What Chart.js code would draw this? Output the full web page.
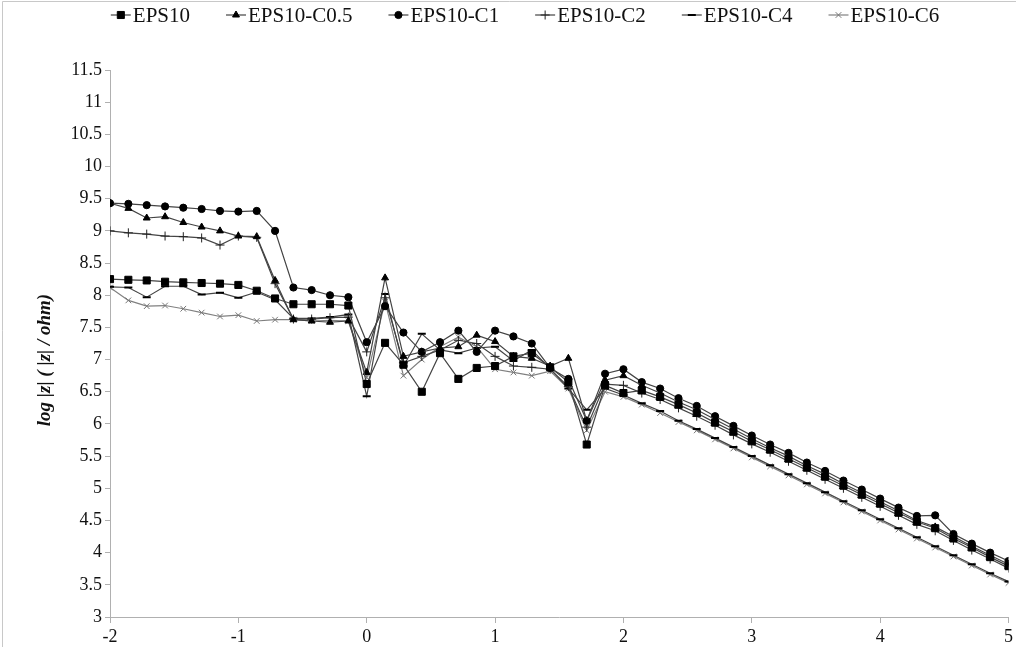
<!DOCTYPE html>
<html>
<head>
<meta charset="utf-8">
<script src="https://cdn.jsdelivr.net/npm/chart.js@4/dist/chart.umd.min.js"></script>
<style>
  html, body { margin: 0; padding: 0; background: #fff; overflow: hidden; }
  canvas { display: block; }
</style>
</head>
<body>
<canvas id="chart" width="1016" height="660"></canvas>
<script>
// ── Data ──────────────────────────────────────────────────────────────────────

const xLog = [
  -2, -1.857, -1.714, -1.571, -1.429, -1.286, -1.143, -1, -0.857, -0.714,
  -0.571, -0.429, -0.286, -0.143, 0, 0.143, 0.286, 0.429, 0.571, 0.714,
  0.857, 1, 1.143, 1.286, 1.429, 1.571, 1.714, 1.857, 2, 2.143,
  2.286, 2.429, 2.571, 2.714, 2.857, 3, 3.143, 3.286, 3.429, 3.571,
  3.714, 3.857, 4, 4.143, 4.286, 4.429, 4.571, 4.714, 4.857, 5,
];

const eps10 = [
  8.25, 8.24, 8.23, 8.21, 8.20, 8.19, 8.18, 8.16, 8.07, 7.95, 7.86, 7.86, 7.86, 7.84, 6.62, 7.26,
  6.92, 6.50, 7.10, 6.70, 6.87, 6.90, 7.05,
  7.10, 6.88, 6.65, 5.68, 6.60,
  6.48, 6.52, 6.42, 6.30, 6.17, 6.02, 5.88, 5.73, 5.60, 5.46, 5.32, 5.18, 5.04, 4.90, 4.76, 4.62, 4.48, 4.38, 4.22, 4.08, 3.93, 3.79,
];

const eps10C05 = [
  9.43, 9.35, 9.20, 9.22, 9.13, 9.06, 9.00, 8.92, 8.91, 8.23, 7.62, 7.60, 7.58, 7.60, 6.80, 8.27,
  7.05, 7.12, 7.18, 7.20, 7.38, 7.28, 7.05,
  7.02, 6.90, 7.02, 6.05, 6.68,
  6.75, 6.60, 6.48, 6.34, 6.22, 6.07, 5.92, 5.77, 5.63, 5.50, 5.35, 5.22, 5.07, 4.93, 4.79, 4.65, 4.50, 4.40, 4.25, 4.10, 3.96, 3.82,
];

const eps10C1 = [
  9.43, 9.42, 9.40, 9.38, 9.36, 9.34, 9.31, 9.30, 9.31, 9.00, 8.12, 8.08, 8.00, 7.97, 7.27, 7.83,
  7.42, 7.12, 7.27, 7.45, 7.12, 7.45, 7.36,
  7.25, 6.87, 6.70, 6.05, 6.78,
  6.85, 6.65, 6.55, 6.40, 6.28, 6.12, 5.97, 5.82, 5.68, 5.55, 5.40, 5.27, 5.12, 4.98, 4.84, 4.70, 4.57, 4.58, 4.29, 4.14, 4.00, 3.87,
];

const eps10C2 = [
  9.00, 8.97, 8.95, 8.92, 8.91, 8.89, 8.78, 8.92, 8.90, 8.18, 7.63, 7.63, 7.65, 7.66, 7.12, 7.96,
  6.95, 7.05, 7.15, 7.30, 7.25, 7.05, 6.90,
  6.88, 6.85, 6.58, 5.95, 6.62,
  6.60, 6.48, 6.38, 6.25, 6.12, 5.98, 5.83, 5.69, 5.56, 5.42, 5.28, 5.14, 5.00, 4.86, 4.72, 4.58, 4.44, 4.34, 4.19, 4.04, 3.90, 3.76,
];

const eps10C4 = [
  8.13, 8.12, 7.97, 8.14, 8.14, 8.01, 8.04, 7.96, 8.05, 7.93, 7.64, 7.64, 7.66, 7.70, 6.43, 8.02,
  6.90, 7.40, 7.15, 7.10, 7.18, 7.20, 6.98,
  7.15, 6.86, 6.55, 6.22, 6.55,
  6.45, 6.32, 6.20, 6.05, 5.92, 5.78, 5.64, 5.50, 5.36, 5.22, 5.08, 4.94, 4.80, 4.66, 4.52, 4.38, 4.24, 4.10, 3.96, 3.82, 3.68, 3.55,
];

const eps10C6 = [
  8.12, 7.92, 7.83, 7.84, 7.79, 7.73, 7.67, 7.69, 7.60, 7.62, 7.62, 7.60, 7.61, 7.60, 6.72, 7.90,
  6.75, 7.00, 7.20, 7.35, 7.20, 6.85, 6.80,
  6.75, 6.82, 6.55, 5.90, 6.50,
  6.42, 6.30, 6.17, 6.03, 5.90, 5.76, 5.62, 5.48, 5.34, 5.20, 5.06, 4.92, 4.78, 4.64, 4.50, 4.36, 4.22, 4.08, 3.94, 3.80, 3.66, 3.53,
];

const seriesNames = ["EPS10", "EPS10-C0.5", "EPS10-C1", "EPS10-C2", "EPS10-C4", "EPS10-C6"];
const yTitle = "log |z| ( |z| / ohm)";

// ── Styles ────────────────────────────────────────────────────────────────────

const SERIF = "'Liberation Serif', 'Times New Roman', serif";
const LINE  = "#444";
const AXIS  = "#b0b0b0";

const styles = [
  { pointStyle: "rect",     radius: 5,   line: LINE,      mark: "#000", fill: true,  bw: 1 },
  { pointStyle: "triangle", radius: 4,   line: LINE,      mark: "#000", fill: true,  bw: 1 },
  { pointStyle: "circle",   radius: 3.6, line: LINE,      mark: "#000", fill: true,  bw: 1 },
  { pointStyle: "cross",    radius: 4.5, line: LINE,      mark: "#222", fill: false, bw: 1 },
  { pointStyle: "line",     radius: 4,   line: LINE,      mark: "#000", fill: false, bw: 2 },
  { pointStyle: "crossRot", radius: 4,   line: "#808080", mark: "#777", fill: false, bw: 1 },
];

const values = [eps10, eps10C05, eps10C1, eps10C2, eps10C4, eps10C6];

const datasets = values.map((vals, i) => {
  const s = styles[i];
  return {
    label: seriesNames[i],
    data: vals.map((v, k) => ({ x: xLog[k], y: v })),
    borderColor: s.line,
    borderWidth: 1.2,
    tension: 0,
    fill: false,
    pointStyle: s.pointStyle,
    pointRadius: s.radius,
    pointBorderColor: s.mark,
    pointBackgroundColor: s.fill ? s.mark : "transparent",
    pointBorderWidth: s.bw,
  };
});

// ── Plugins ───────────────────────────────────────────────────────────────────

// light frame around the chart, top and left edges only (rest is cropped)
const framePlugin = {
  id: "frame",
  beforeDraw(chart) {
    const ctx = chart.ctx;
    ctx.save();
    ctx.fillStyle = "#fff";
    ctx.fillRect(0, 0, chart.width, chart.height);
    ctx.strokeStyle = "#c8c8c8";
    ctx.lineWidth = 1;
    ctx.beginPath();
    ctx.moveTo(2.5, chart.height);
    ctx.lineTo(2.5, 1.5);
    ctx.lineTo(chart.width, 1.5);
    ctx.stroke();
    ctx.restore();
  },
};

// rotated y title, sitting a bit below the axis middle like the original
const yTitlePlugin = {
  id: "yTitle",
  afterDraw(chart) {
    const ctx = chart.ctx;
    ctx.save();
    ctx.translate(45, 360);
    ctx.rotate(-Math.PI / 2);
    ctx.font = `italic bold 19px ${SERIF}`;
    ctx.fillStyle = "#111";
    ctx.textAlign = "center";
    ctx.textBaseline = "middle";
    ctx.fillText(yTitle, 0, 0);
    ctx.restore();
  },
};

// Excel-like legend: short line with marker, then label
const legendPlugin = {
  id: "excelLegend",
  afterDraw(chart) {
    const ctx = chart.ctx;
    ctx.save();
    ctx.font = `21px ${SERIF}`;
    ctx.textBaseline = "middle";
    const seg = 20, gap = 2, spacing = 36, y = 15;
    const widths = seriesNames.map(n => seg + gap + ctx.measureText(n).width);
    const total = widths.reduce((a, b) => a + b, 0) + spacing * (widths.length - 1);
    let x = 525 - total / 2;
    seriesNames.forEach((name, i) => {
      const s = styles[i];
      ctx.strokeStyle = s.line;
      ctx.lineWidth = 1.2;
      ctx.beginPath();
      ctx.moveTo(x, y);
      ctx.lineTo(x + seg, y);
      ctx.stroke();
      ctx.strokeStyle = s.mark;
      ctx.fillStyle = s.fill ? s.mark : "transparent";
      ctx.lineWidth = s.bw;
      Chart.helpers.drawPoint(ctx, { pointStyle: s.pointStyle, radius: s.radius, borderWidth: s.bw, rotation: 0 }, x + seg / 2, y);
      ctx.fillStyle = "#111";
      ctx.fillText(name, x + seg + gap, y + 1);
      x += widths[i] + spacing;
    });
    ctx.restore();
  },
};

// ── Chart ─────────────────────────────────────────────────────────────────────

new Chart(document.getElementById("chart"), {
  type: "line",
  data: { datasets },
  plugins: [framePlugin, legendPlugin, yTitlePlugin],
  options: {
    responsive: false,
    animation: false,
    layout: { padding: { top: 70, right: 6, left: 0, bottom: 0 } },
    plugins: {
      legend: { display: false },
      tooltip: { enabled: false },
    },
    scales: {
      x: {
        type: "linear",
        min: -2,
        max: 5,
        ticks: { stepSize: 1, color: "#111", font: { family: SERIF, size: 18 }, padding: 3, maxRotation: 0 },
        grid: { drawOnChartArea: false, drawTicks: true, tickLength: 6, color: AXIS },
        border: { color: AXIS },
        afterFit: s => { s.height = 43; },
      },
      y: {
        min: 3,
        max: 11.5,
        ticks: {
          stepSize: 0.5,
          color: "#111",
          font: { family: SERIF, size: 18 },
          padding: 3,
          callback: v => String(Math.round(v * 10) / 10),
        },
        grid: { drawOnChartArea: false, drawTicks: true, tickLength: 5, color: AXIS },
        border: { color: AXIS },
        afterFit: s => { s.width = 110; },
      },
    },
  },
});
</script>
</body>
</html>
